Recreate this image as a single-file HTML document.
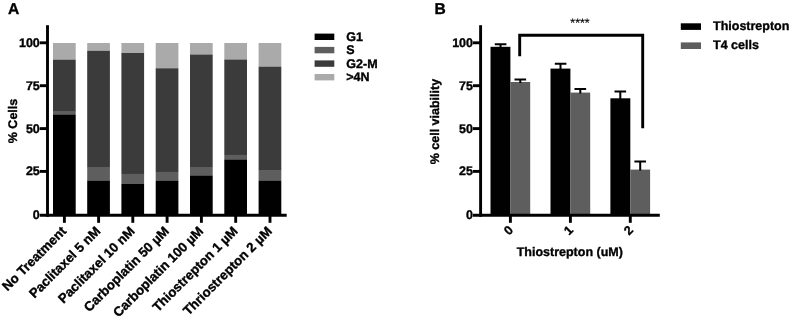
<!DOCTYPE html>
<html>
<head>
<meta charset="utf-8">
<title>Figure</title>
<style>
html,body{margin:0;padding:0;background:#fff;}
body{width:793px;height:321px;overflow:hidden;}
svg{display:block;opacity:0.999;will-change:transform;}
text{text-rendering:geometricPrecision;}
text{font-family:"Liberation Sans",Arial,Helvetica,sans-serif;font-weight:bold;fill:#000;stroke:#000;stroke-width:0.35px;stroke-linejoin:round;}
.t12{font-size:12.5px;}
.tx{font-size:13.2px;}
.pl{font-size:15.6px;}
</style>
</head>
<body>
<svg width="793" height="321" viewBox="0 0 793 321">
<rect x="0" y="0" width="793" height="321" fill="#fff"/>

<!-- ================= Panel A ================= -->
<text class="pl" x="8" y="13.7">A</text>

<!-- bars -->
<g id="barsA">
  <!-- No Treatment -->
  <rect x="53" y="43" width="22.7" height="17" fill="#aaaaaa"/>
  <rect x="53" y="59.8" width="22.7" height="52" fill="#3b3b3b"/>
  <rect x="53" y="111.5" width="22.7" height="3.3" fill="#5e5e5e"/>
  <rect x="53" y="114.6" width="22.7" height="99.9" fill="#000"/>
  <!-- Paclitaxel 5 nM -->
  <rect x="87.2" y="43" width="22.7" height="8" fill="#aaaaaa"/>
  <rect x="87.2" y="50.9" width="22.7" height="116.3" fill="#3b3b3b"/>
  <rect x="87.2" y="167" width="22.7" height="14" fill="#5e5e5e"/>
  <rect x="87.2" y="180.9" width="22.7" height="33.6" fill="#000"/>
  <!-- Paclitaxel 10 nM -->
  <rect x="121.4" y="43" width="22.7" height="10.2" fill="#aaaaaa"/>
  <rect x="121.4" y="53" width="22.7" height="121" fill="#3b3b3b"/>
  <rect x="121.4" y="173.9" width="22.7" height="10.3" fill="#5e5e5e"/>
  <rect x="121.4" y="184" width="22.7" height="30.5" fill="#000"/>
  <!-- Carboplatin 50 -->
  <rect x="155.7" y="43" width="22.7" height="25.5" fill="#aaaaaa"/>
  <rect x="155.7" y="68.3" width="22.7" height="103.8" fill="#3b3b3b"/>
  <rect x="155.7" y="171.9" width="22.7" height="9.2" fill="#5e5e5e"/>
  <rect x="155.7" y="180.9" width="22.7" height="33.6" fill="#000"/>
  <!-- Carboplatin 100 -->
  <rect x="190" y="43" width="22.7" height="12" fill="#aaaaaa"/>
  <rect x="190" y="54.7" width="22.7" height="112.5" fill="#3b3b3b"/>
  <rect x="190" y="167" width="22.7" height="8.8" fill="#5e5e5e"/>
  <rect x="190" y="175.6" width="22.7" height="38.9" fill="#000"/>
  <!-- Thiostrepton 1 -->
  <rect x="224.3" y="43" width="22.7" height="16.8" fill="#aaaaaa"/>
  <rect x="224.3" y="59.6" width="22.7" height="95.5" fill="#3b3b3b"/>
  <rect x="224.3" y="154.9" width="22.7" height="4.9" fill="#5e5e5e"/>
  <rect x="224.3" y="159.6" width="22.7" height="54.9" fill="#000"/>
  <!-- Thriostrepton 2 -->
  <rect x="258.6" y="43" width="22.7" height="24" fill="#aaaaaa"/>
  <rect x="258.6" y="66.8" width="22.7" height="104" fill="#3b3b3b"/>
  <rect x="258.6" y="170.6" width="22.7" height="10.5" fill="#5e5e5e"/>
  <rect x="258.6" y="180.9" width="22.7" height="33.6" fill="#000"/>
</g>

<!-- axes A -->
<g stroke="#000" stroke-width="2.9" fill="none">
  <line x1="47.5" y1="25.2" x2="47.5" y2="216.75"/>
  <line x1="39.8" y1="215.3" x2="286.7" y2="215.3"/>
  <line x1="39.8" y1="42.8" x2="47" y2="42.8"/>
  <line x1="39.8" y1="85.7" x2="47" y2="85.7"/>
  <line x1="39.8" y1="128.6" x2="47" y2="128.6"/>
  <line x1="39.8" y1="171.4" x2="47" y2="171.4"/>
  <!-- x ticks -->
  <line x1="64.4" y1="215.3" x2="64.4" y2="222.8"/>
  <line x1="98.6" y1="215.3" x2="98.6" y2="222.8"/>
  <line x1="132.8" y1="215.3" x2="132.8" y2="222.8"/>
  <line x1="167.1" y1="215.3" x2="167.1" y2="222.8"/>
  <line x1="201.4" y1="215.3" x2="201.4" y2="222.8"/>
  <line x1="235.7" y1="215.3" x2="235.7" y2="222.8"/>
  <line x1="270" y1="215.3" x2="270" y2="222.8"/>
</g>

<!-- y labels A -->
<g class="t12" text-anchor="end">
  <text x="39.8" y="46.7">100</text>
  <text x="39.8" y="89.6">75</text>
  <text x="39.8" y="132.5">50</text>
  <text x="39.8" y="175.3">25</text>
  <text x="39.8" y="219.2">0</text>
</g>
<text class="t12" text-anchor="middle" transform="translate(16.6,121) rotate(-90)">% Cells</text>

<!-- x labels A -->
<g class="tx" text-anchor="end">
  <text transform="translate(67.1,232) rotate(-45)">No Treatment</text>
  <text transform="translate(101.3,232) rotate(-45)">Paclitaxel 5 nM</text>
  <text transform="translate(135.5,232) rotate(-45)">Paclitaxel 10 nM</text>
  <text transform="translate(169.8,232) rotate(-45)">Carboplatin 50 µM</text>
  <text transform="translate(204.1,232) rotate(-45)">Carboplatin 100 µM</text>
  <text transform="translate(238.4,232) rotate(-45)">Thiostrepton 1 µM</text>
  <text transform="translate(272.7,232) rotate(-45)">Thriostrepton 2 µM</text>
</g>

<!-- legend A -->
<rect x="314.6" y="33.6" width="19.7" height="6.4" fill="#000"/>
<rect x="314.6" y="46.9" width="19.7" height="6.4" fill="#5e5e5e"/>
<rect x="314.6" y="60.4" width="19.7" height="6.4" fill="#3b3b3b"/>
<rect x="314.6" y="74" width="19.7" height="6.4" fill="#aaaaaa"/>
<g class="t12">
  <text x="346.3" y="41">G1</text>
  <text x="346.3" y="54.4">S</text>
  <text x="346.3" y="67.9">G2-M</text>
  <text x="346.3" y="81.4">&gt;4N</text>
</g>

<!-- ================= Panel B ================= -->
<text class="pl" x="434.6" y="13.7">B</text>

<!-- bars B -->
<g>
  <rect x="490.5" y="46.8" width="19.9" height="167.7" fill="#000"/>
  <rect x="510.4" y="82" width="19.8" height="132.5" fill="#5e5e5e"/>
  <rect x="550.5" y="68.6" width="19.9" height="145.9" fill="#000"/>
  <rect x="570.4" y="92.6" width="19.8" height="121.9" fill="#5e5e5e"/>
  <rect x="610.4" y="98.3" width="19.9" height="116.2" fill="#000"/>
  <rect x="630.3" y="169.6" width="19.8" height="44.9" fill="#5e5e5e"/>
</g>
<!-- error bars -->
<g stroke="#000" stroke-width="2" fill="none">
  <path d="M500.5 47.5V44.2M494.8 44.2H506.4"/>
  <path d="M520.3 83V79.4M514.5 79.4H526.1"/>
  <path d="M560.5 69.5V63.7M554.8 63.7H566.4"/>
  <path d="M580.3 93.5V88.9M574.5 88.9H586.1"/>
  <path d="M620.3 99V91.4M614.5 91.4H626.1"/>
  <path d="M640.2 170.5V161.4M634.4 161.4H646"/>
</g>

<!-- axes B -->
<g stroke="#000" stroke-width="2.9" fill="none">
  <line x1="480.6" y1="25.2" x2="480.6" y2="216.75"/>
  <line x1="473" y1="215.3" x2="659.8" y2="215.3"/>
  <line x1="473" y1="42.8" x2="480" y2="42.8"/>
  <line x1="473" y1="85.7" x2="480" y2="85.7"/>
  <line x1="473" y1="128.6" x2="480" y2="128.6"/>
  <line x1="473" y1="171.4" x2="480" y2="171.4"/>
  <line x1="510.4" y1="215.3" x2="510.4" y2="222.8"/>
  <line x1="570.4" y1="215.3" x2="570.4" y2="222.8"/>
  <line x1="630.3" y1="215.3" x2="630.3" y2="222.8"/>
  <!-- significance bracket -->
  <path d="M519.7 56.3V35.2H642.7V128.2"/>
</g>

<!-- y labels B -->
<g class="t12" text-anchor="end">
  <text x="473.0" y="46.7">100</text>
  <text x="473.0" y="89.6">75</text>
  <text x="473.0" y="132.5">50</text>
  <text x="473.0" y="175.3">25</text>
  <text x="473.0" y="219.2">0</text>
</g>
<text class="t12" text-anchor="middle" transform="translate(438.6,121.6) rotate(-90)">% cell viability</text>

<!-- x labels B -->
<g class="t12" text-anchor="end">
  <text transform="translate(514,230.9) rotate(-45)">0</text>
  <text transform="translate(574,230.9) rotate(-45)">1</text>
  <text transform="translate(634,230.9) rotate(-45)">2</text>
</g>
<text class="t12" text-anchor="middle" x="569.8" y="255.7">Thiostrepton (uM)</text>
<text text-anchor="middle" x="580" y="27.1" style="font-size:12.4px;font-weight:normal;stroke-width:0.15px">****</text>

<!-- legend B -->
<rect x="680.8" y="23.3" width="20.2" height="6.6" fill="#000"/>
<rect x="680.8" y="42.4" width="20.2" height="6.6" fill="#5e5e5e"/>
<g class="t12">
  <text x="713" y="30.2">Thiostrepton</text>
  <text x="713" y="49.3">T4 cells</text>
</g>
</svg>
</body>
</html>
